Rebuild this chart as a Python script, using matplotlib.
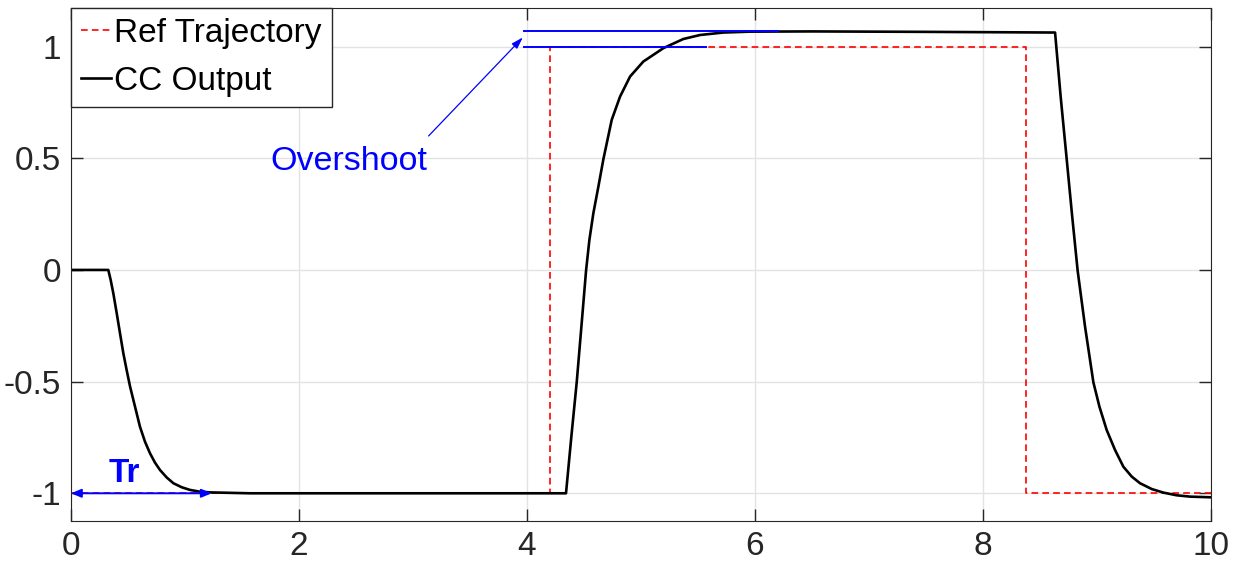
import matplotlib.pyplot as plt
import numpy as np

plt.rcParams['font.family'] = ['Liberation Sans', 'DejaVu Sans']
plt.rcParams['axes.unicode_minus'] = False

# reference trajectory (step changes)
ref_t = [0, 4.2, 4.2, 8.38, 8.38, 10]
ref_y = [-1, -1, 1, 1, -1, -1]

# closed-loop output
cc_t = [0, 0.327, 0.348, 0.371, 0.401, 0.430, 0.459, 0.488, 0.518, 0.547, 0.576, 0.605,
        0.649, 0.693, 0.737, 0.781, 0.839, 0.898, 0.971, 1.044, 1.132, 1.219, 1.57,
        2.5, 3.5, 4.342, 4.389, 4.436, 4.477, 4.518, 4.547, 4.582, 4.626, 4.670, 4.743,
        4.816, 4.904, 5.020, 5.196, 5.371, 5.518, 5.722, 5.956, 6.5, 7.5, 8.632,
        8.681, 8.734, 8.781, 8.830, 8.895, 8.968, 9.021, 9.085, 9.158, 9.231, 9.304,
        9.377, 9.480, 9.582, 9.699, 9.816, 10.0]
cc_y = [0, 0, -0.045, -0.104, -0.194, -0.284, -0.373, -0.448, -0.522, -0.582, -0.642, -0.702,
        -0.769, -0.821, -0.863, -0.896, -0.929, -0.955, -0.973, -0.985, -0.993, -0.996, -1.0,
        -1.0, -1.0, -1.0, -0.746, -0.503, -0.254, -0.003, 0.134, 0.254, 0.373, 0.496, 0.672,
        0.776, 0.866, 0.933, 0.993, 1.034, 1.052, 1.063, 1.067, 1.068, 1.066, 1.063,
        0.776, 0.496, 0.246, -0.003, -0.254, -0.503, -0.612, -0.717, -0.806, -0.881, -0.925,
        -0.955, -0.981, -0.997, -1.009, -1.015, -1.018]

overshoot = 1.07
t_rise = 1.234

fig = plt.figure(figsize=(12.37, 5.69), dpi=100)
ax = fig.add_axes([0.0574, 0.0844, 0.9216, 0.9016])

ax.plot(ref_t, ref_y, color='red', linestyle=(0, (4, 2.5)), lw=1.2, label='Ref Trajectory')
ax.plot(cc_t, cc_y, color='black', lw=1.9, label='CC Output')

# overshoot markers
ax.plot([3.97, 6.2], [overshoot, overshoot], color='blue', lw=1.4)
ax.plot([3.97, 5.57], [1.0, 1.0], color='blue', lw=1.4)
ax.annotate('', xy=(3.98, 1.05), xytext=(3.12, 0.591),
            arrowprops=dict(arrowstyle='-|>,head_length=0.7,head_width=0.22', color='blue', lw=0.9))
ax.text(2.44, 0.484, 'Overshoot', color='blue', fontsize=24.5, ha='center', va='center')

# rise time
ax.annotate('', xy=(0, -1), xytext=(t_rise, -1),
            arrowprops=dict(arrowstyle='<|-|>,head_length=0.6,head_width=0.25', color='blue', lw=1.4,
                            shrinkA=0, shrinkB=0))
ax.text(0.47, -0.91, 'Tr', color='blue', fontsize=24, fontweight='bold', ha='center', va='center')

ax.set_xlim(0, 10)
ax.set_ylim(-1.124, 1.173)
ax.set_xticks(np.arange(0, 11, 2))
ax.set_yticks([-1, -0.5, 0, 0.5, 1])
ax.set_yticklabels(['-1', '-0.5', '0', '0.5', '1'])
ax.grid(True, color='#e3e3e3', lw=1)
ax.set_axisbelow(True)
ax.tick_params(direction='in', length=8.5, top=True, right=True, labelsize=24,
               colors='#262626', width=1, pad=7)
for s in ax.spines.values():
    s.set_color('#262626')

leg = ax.legend(loc='upper left', fontsize=24, borderaxespad=0, fancybox=False,
                framealpha=1, handlelength=0.9, handletextpad=0.1, borderpad=0.3,
                labelspacing=0.5)
leg.get_frame().set_edgecolor('#262626')

fig.savefig('out.png', dpi=100)
